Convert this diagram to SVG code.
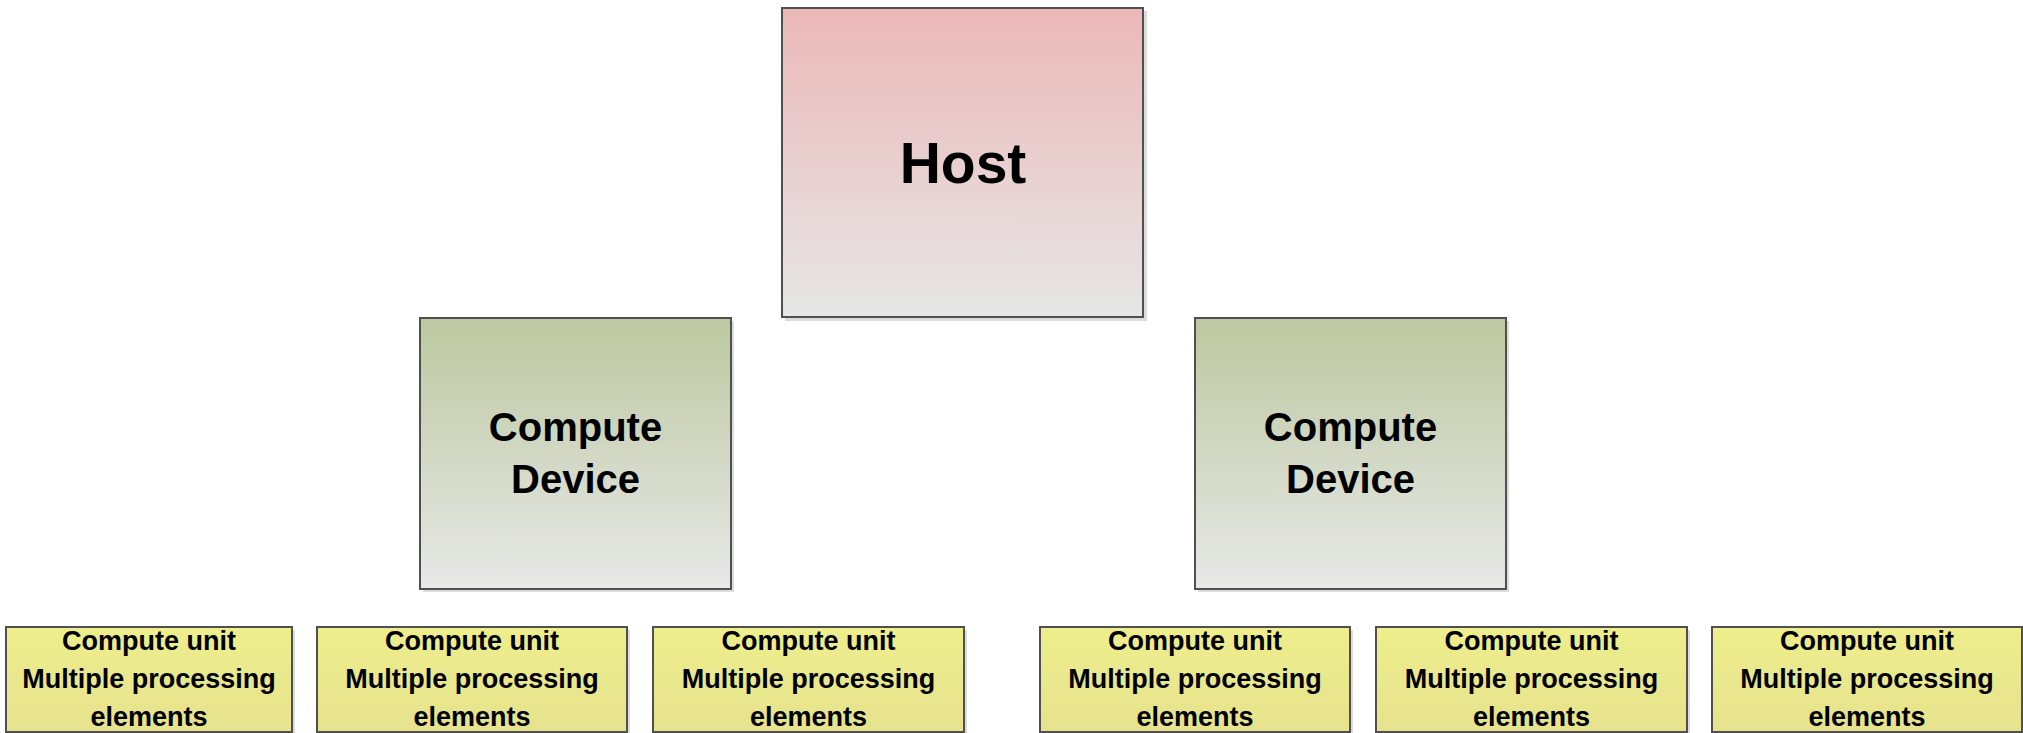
<svg xmlns="http://www.w3.org/2000/svg" width="2023" height="733" viewBox="0 0 2023 733">
  <style>
    .box { stroke: #505050; stroke-width: 2; }
    .shadow { fill: #dcdcdc; }
    .t { font-family: "Liberation Sans", Arial, sans-serif; font-weight: bold; fill: #000000; text-anchor: middle; }
    .host { font-size: 57px; }
    .dev { font-size: 40px; }
    .cu { font-size: 27px; }
  </style>
  <defs>
    <linearGradient id="gHost" x1="0" y1="0" x2="0" y2="1">
      <stop offset="0" stop-color="#ECB8B8"/>
      <stop offset="1" stop-color="#E6E6E6"/>
    </linearGradient>
    <linearGradient id="gDev" x1="0" y1="0" x2="0" y2="1">
      <stop offset="0" stop-color="#BCC8A0"/>
      <stop offset="1" stop-color="#E8E8E8"/>
    </linearGradient>
    <linearGradient id="gCu" x1="0" y1="0" x2="0" y2="1">
      <stop offset="0" stop-color="#EEEE8C"/>
      <stop offset="1" stop-color="#E6E28E"/>
    </linearGradient>
  </defs>

  <g id="connectors"></g>

  <g id="host">
    <rect class="shadow" x="785" y="11" width="362" height="310"/>
    <rect class="box" x="782" y="8" width="361" height="309" fill="url(#gHost)"/>
    <text class="t host" x="963" y="183">Host</text>
  </g>

  <g id="device1">
    <rect class="shadow" x="423" y="321" width="311" height="271"/>
    <rect class="box" x="420" y="318" width="311" height="271" fill="url(#gDev)"/>
    <text class="t dev" x="575.5" y="441">Compute</text>
    <text class="t dev" x="575.5" y="493">Device</text>
  </g>

  <g id="device2">
    <rect class="shadow" x="1198" y="321" width="311" height="271"/>
    <rect class="box" x="1195" y="318" width="311" height="271" fill="url(#gDev)"/>
    <text class="t dev" x="1350.5" y="441">Compute</text>
    <text class="t dev" x="1350.5" y="493">Device</text>
  </g>

  <g id="cu1">
    <rect class="shadow" x="9" y="630" width="286" height="105"/>
    <rect class="box" x="6" y="627" width="286" height="105" fill="url(#gCu)"/>
    <text class="t cu" x="149" y="650">Compute unit</text>
    <text class="t cu" x="149" y="688">Multiple processing</text>
    <text class="t cu" x="149" y="726">elements</text>
  </g>

  <g id="cu2">
    <rect class="shadow" x="320" y="630" width="310" height="105"/>
    <rect class="box" x="317" y="627" width="310" height="105" fill="url(#gCu)"/>
    <text class="t cu" x="472" y="650">Compute unit</text>
    <text class="t cu" x="472" y="688">Multiple processing</text>
    <text class="t cu" x="472" y="726">elements</text>
  </g>

  <g id="cu3">
    <rect class="shadow" x="656" y="630" width="311" height="105"/>
    <rect class="box" x="653" y="627" width="311" height="105" fill="url(#gCu)"/>
    <text class="t cu" x="808.5" y="650">Compute unit</text>
    <text class="t cu" x="808.5" y="688">Multiple processing</text>
    <text class="t cu" x="808.5" y="726">elements</text>
  </g>

  <g id="cu4">
    <rect class="shadow" x="1043" y="630" width="310" height="105"/>
    <rect class="box" x="1040" y="627" width="310" height="105" fill="url(#gCu)"/>
    <text class="t cu" x="1195" y="650">Compute unit</text>
    <text class="t cu" x="1195" y="688">Multiple processing</text>
    <text class="t cu" x="1195" y="726">elements</text>
  </g>

  <g id="cu5">
    <rect class="shadow" x="1379" y="630" width="311" height="105"/>
    <rect class="box" x="1376" y="627" width="311" height="105" fill="url(#gCu)"/>
    <text class="t cu" x="1531.5" y="650">Compute unit</text>
    <text class="t cu" x="1531.5" y="688">Multiple processing</text>
    <text class="t cu" x="1531.5" y="726">elements</text>
  </g>

  <g id="cu6">
    <rect class="box" x="1712" y="627" width="310" height="105" fill="url(#gCu)"/>
    <text class="t cu" x="1867" y="650">Compute unit</text>
    <text class="t cu" x="1867" y="688">Multiple processing</text>
    <text class="t cu" x="1867" y="726">elements</text>
  </g>
</svg>
